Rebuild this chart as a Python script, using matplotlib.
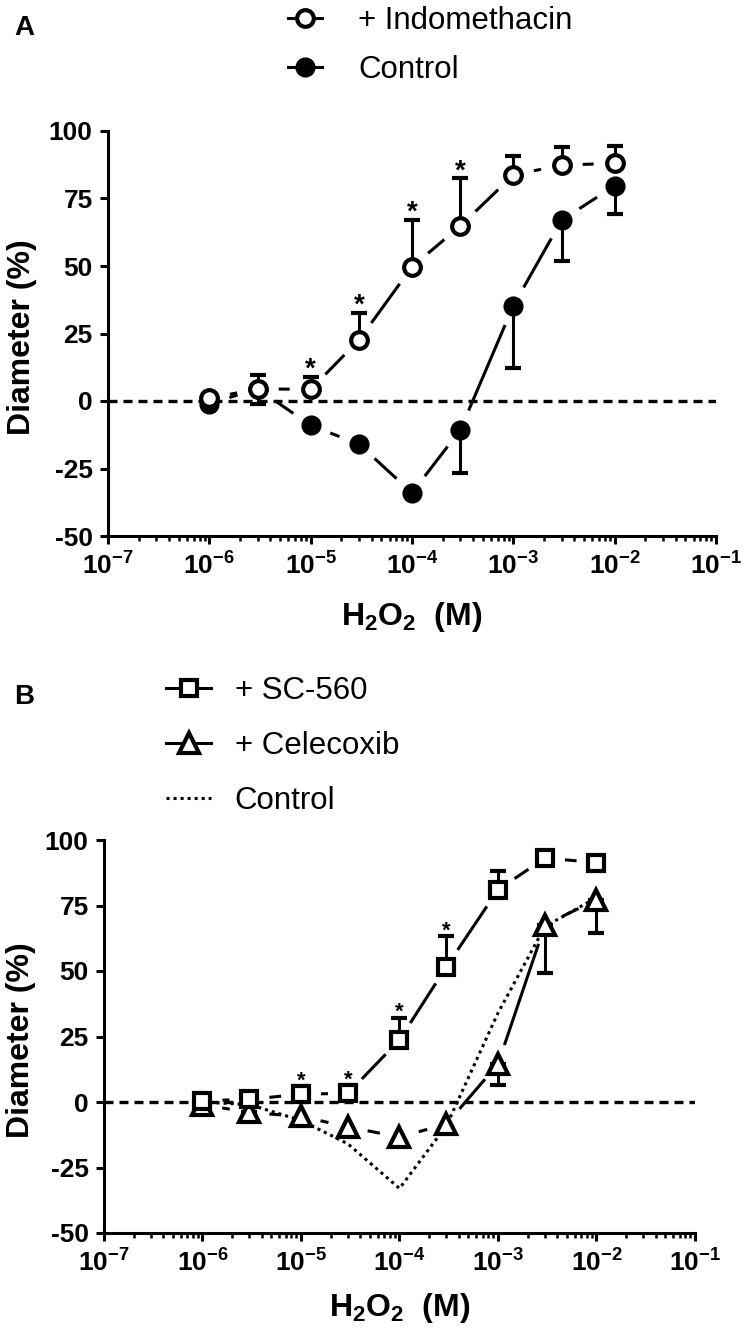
import numpy as np
import matplotlib
matplotlib.use("Agg")
import matplotlib.pyplot as plt
from matplotlib.lines import Line2D
from matplotlib.ticker import LogLocator, NullFormatter

# ---------------- data ----------------
conc = [1e-6, 3e-6, 1e-5, 3e-5, 1e-4, 3e-4, 1e-3, 3e-3, 1e-2]

# Panel A
indo = [1.0, 4.5, 4.3, 22.6, 49.7, 64.8, 83.7, 87.4, 88.0]
indo_err = [0, 5.0, 4.7, 10.0, 17.3, 17.7, 7.0, 6.8, 6.4]          # upward
ctrl_a = [-1.0, 4.5, -9.0, -16.0, -34.0, -10.7, 35.3, 67.0, 79.7]
ctrl_a_err = [0, 5.5, 0, 0, 0, 15.8, 23.0, 15.0, 10.6]             # downward
star_a = [False, False, True, True, True, True, False, False, False]

# Panel B
sc560 = [0.5, 1.0, 3.0, 3.3, 23.7, 51.7, 81.0, 93.1, 91.4]
sc560_err = [0, 0, 3.0, 3.0, 8.3, 11.5, 7.0, 0, 0]                 # upward
celecoxib = [-1.0, -4.0, -5.5, -9.5, -13.4, -8.4, 14.5, 67.6, 77.2]
celecoxib_err = [0, 2.0, 0, 0, 0, 0, 8.0, 18.4, 12.7]              # downward
ctrl_b = [0.0, -1.0, -7.0, -16.0, -33.0, -9.0, 34.0, 67.0, 78.0]
star_b = [False, False, True, True, True, True, False, False, False]

yticks = [-50, -25, 0, 25, 50, 75, 100]
ytick_labels = ["-50", "-25", "0", "25", "50", "75", "100"]
xticks = [1e-7, 1e-6, 1e-5, 1e-4, 1e-3, 1e-2, 1e-1]
xtick_labels = [r"$10^{-7}$", r"$10^{-6}$", r"$10^{-5}$", r"$10^{-4}$",
                r"$10^{-3}$", r"$10^{-2}$", r"$10^{-1}$"]

# ---------------- style ----------------
plt.rcParams.update({
    "font.family": ["Liberation Sans", "DejaVu Sans"],
    "mathtext.fontset": "custom",
    "mathtext.rm": "Liberation Sans:bold",
    "mathtext.it": "Liberation Sans:bold",
    "mathtext.bf": "Liberation Sans:bold",
    "mathtext.sf": "Liberation Sans:bold",
    "axes.unicode_minus": False,
})

W, H = 749, 1334
fig = plt.figure(figsize=(W / 100, H / 100), dpi=100)


def axes_px(l, r, t, b):
    return fig.add_axes([l / W, 1 - b / H, (r - l) / W, (b - t) / H])


axA = axes_px(108, 716, 131, 536)
axB = axes_px(104, 695, 840, 1233)

LW = 2.2
MEW = 3.0


def style(ax):
    ax.set_xscale("log")
    ax.set_xlim(1e-7, 1e-1)
    ax.set_ylim(-50, 100)
    ax.set_autoscale_on(False)
    for s in ("top", "right"):
        ax.spines[s].set_visible(False)
    for s in ("left", "bottom"):
        ax.spines[s].set_linewidth(LW)
    ax.set_yticks(yticks)
    ax.set_yticklabels(ytick_labels, fontweight="bold")
    ax.set_xticks(xticks)
    ax.set_xticklabels(xtick_labels)
    ax.xaxis.set_minor_locator(LogLocator(base=10, subs=np.arange(2, 10), numticks=30))
    ax.xaxis.set_minor_formatter(NullFormatter())
    ax.tick_params(axis="both", which="major", length=6, width=LW,
                   labelsize=19, direction="out", pad=5)
    ax.tick_params(axis="x", which="major", pad=6)
    ax.tick_params(axis="x", which="minor", length=3.5, width=1.8)
    ax.axhline(0, color="black", lw=2.4, ls=(0, (2.7, 1.8)), zorder=1)
    ax.set_ylabel("Diameter (%)", fontsize=23, fontweight="bold")
    ax.set_xlabel(r"H$_2$O$_2$  (M)", fontsize=23, fontweight="bold")
    ax.xaxis.label.set_va("center")
    ax.yaxis.label.set_va("center")


style(axA)
style(axB)
axA.xaxis.set_label_coords(0.5, -0.20)
axB.xaxis.set_label_coords(0.5, -0.19)
axA.yaxis.set_label_coords(-0.142, 0.49)
axB.yaxis.set_label_coords(-0.140, 0.49)


def gapped_line(ax, x, y, gap_px, **kw):
    pts = ax.transData.transform(np.column_stack([x, y]))
    inv = ax.transData.inverted()
    for p0, p1 in zip(pts[:-1], pts[1:]):
        d = p1 - p0
        L = np.hypot(*d)
        if L <= 2 * gap_px:
            continue
        u = d / L
        q = inv.transform(np.array([p0 + u * gap_px, p1 - u * gap_px]))
        ax.plot(q[:, 0], q[:, 1], color="black", lw=LW, solid_capstyle="butt", zorder=2, **kw)


def errbars(ax, x, y, err, up):
    x = np.array(x); y = np.array(y); e = np.array(err)
    m = e > 0
    z = np.zeros(m.sum())
    yerr = [z, e[m]] if up else [e[m], z]
    ax.errorbar(x[m], y[m], yerr=yerr, fmt="none", ecolor="black",
                elinewidth=LW, capsize=6, capthick=3, zorder=3)


def stars(ax, x, y, err, flags, size):
    for xi, yi, ei, f in zip(x, y, err, flags):
        if f:
            ax.annotate("*", xy=(xi, yi + ei), xytext=(0, 0), textcoords="offset points",
                        ha="center", va="baseline", fontsize=size, fontweight="bold", zorder=5)


# ---------------- panel A ----------------
gapped_line(axA, conc, indo, 21)
gapped_line(axA, conc, ctrl_a, 21)
errbars(axA, conc, indo, indo_err, True)
errbars(axA, conc, ctrl_a, ctrl_a_err, False)
axA.plot(conc, ctrl_a, ls="none", marker="o", ms=12.5, mfc="black", mec="black", mew=2, zorder=4)
axA.plot(conc, indo, ls="none", marker="o", ms=12, mfc="white", mec="black", mew=MEW, zorder=4)
stars(axA, conc, indo, indo_err, star_a, 20)

# ---------------- panel B ----------------
axB.plot(conc, ctrl_b, color="black", lw=LW, ls=(0, (1, 1.3)), zorder=2)
gapped_line(axB, conc, sc560, 20)
gapped_line(axB, conc, celecoxib, 20)
errbars(axB, conc, sc560, sc560_err, True)
errbars(axB, conc, celecoxib, celecoxib_err, False)
axB.plot(conc, celecoxib, ls="none", marker="^", ms=14, mfc="white", mec="black", mew=MEW, zorder=4)
axB.plot(conc, sc560, ls="none", marker="s", ms=11, mfc="white", mec="black", mew=MEW, zorder=4)
stars(axB, conc, sc560, sc560_err, star_b, 16)

# ---------------- legends & panel letters ----------------
LEG_FS = 22.5
hA = [Line2D([], [], color="black", lw=LW, marker="o", ms=12, mfc="white", mec="black", mew=MEW),
      Line2D([], [], color="black", lw=LW, marker="o", ms=12.5, mfc="black", mec="black", mew=2)]
fig.legend(hA, ["+ Indomethacin", "Control"], loc="upper left",
           bbox_to_anchor=(288 / W, 1 - 6 / H), frameon=False, fontsize=LEG_FS,
           borderpad=0, borderaxespad=0, handlelength=1.1, handletextpad=1.15,
           labelspacing=0.62)

hB = [Line2D([], [], color="black", lw=LW, marker="s", ms=11, mfc="white", mec="black", mew=MEW),
      Line2D([], [], color="black", lw=LW, marker="^", ms=14, mfc="white", mec="black", mew=MEW),
      Line2D([], [], color="black", lw=LW, ls=(0, (1, 1.3)))]
fig.legend(hB, ["+ SC-560", "+ Celecoxib", "Control"], loc="upper left",
           bbox_to_anchor=(166 / W, 1 - 676 / H), frameon=False, fontsize=LEG_FS,
           borderpad=0, borderaxespad=0, handlelength=1.45, handletextpad=0.75,
           labelspacing=0.8)

fig.text(24 / W, 1 - 28 / H, "A", fontsize=20, fontweight="bold", ha="center", va="center")
fig.text(24 / W, 1 - 697 / H, "B", fontsize=20, fontweight="bold", ha="center", va="center")

fig.savefig("out.png", dpi=100)
